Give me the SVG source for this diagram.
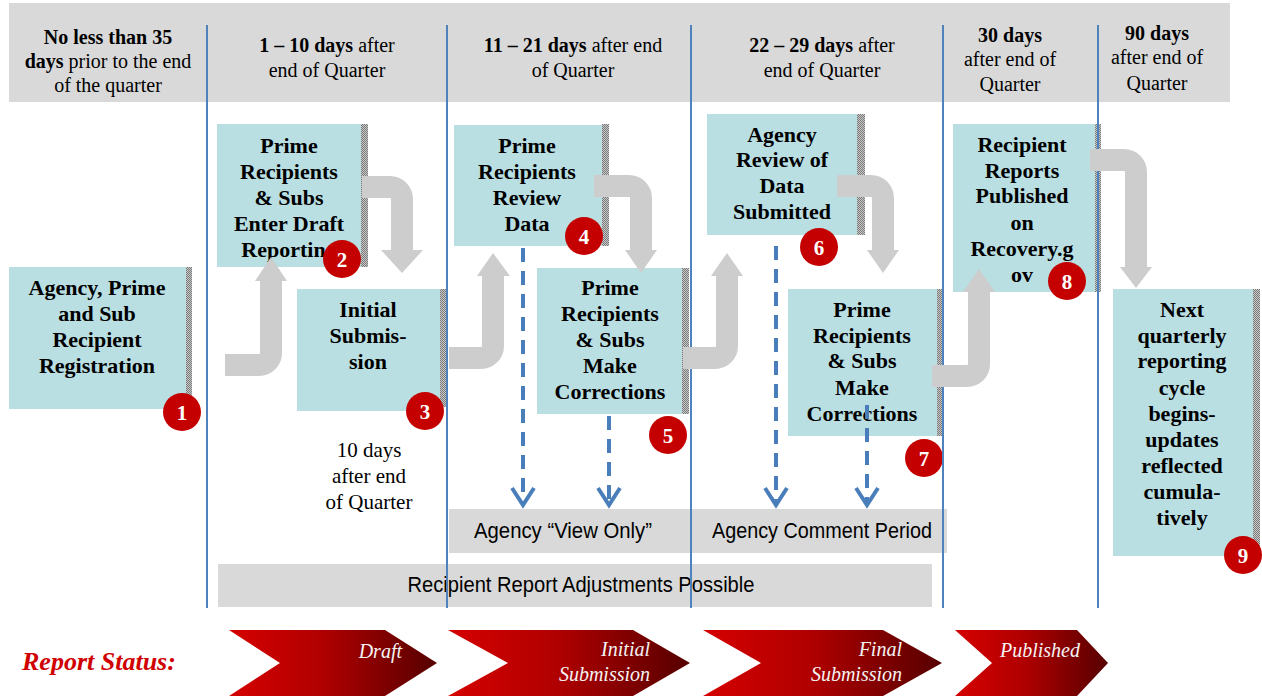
<svg xmlns="http://www.w3.org/2000/svg" width="1262" height="696" viewBox="0 0 1262 696">
<defs>
<pattern id="dots" width="2" height="2" patternUnits="userSpaceOnUse">
<rect width="2" height="2" fill="#c8c8c8"/>
<rect width="1" height="1" fill="#7a7a7a"/>
<rect x="1" y="1" width="1" height="1" fill="#7a7a7a"/>
</pattern>
<linearGradient id="chev" x1="0" y1="0" x2="1" y2="0">
<stop offset="0" stop-color="#d60000"/>
<stop offset="0.45" stop-color="#b00000"/>
<stop offset="1" stop-color="#560000"/>
</linearGradient>
<style>
.hdr{font-family:"Liberation Serif","Times New Roman",serif;font-size:20px;fill:#000;text-anchor:middle}
.b{font-weight:bold}
.box{fill:#b9dfe3}
.shd{fill:url(#dots)}
.bt{font-family:"Liberation Serif","Times New Roman",serif;font-size:22px;font-weight:bold;fill:#000;text-anchor:middle}
.badge{fill:#c40000}
.bn{font-family:"Liberation Serif","Times New Roman",serif;font-size:21px;font-weight:bold;fill:#fff;text-anchor:middle}
.vl{stroke:#4f81bd;stroke-width:2}
.band{fill:#d9d9d9}
.bandt{font-family:"Liberation Sans Narrow","Liberation Sans",Arial,sans-serif;font-size:22px;fill:#000;text-anchor:middle}
.ga{fill:none;stroke:#cdcdcd;stroke-width:22;stroke-linecap:butt}
.gh{fill:#cdcdcd}
.da{fill:none;stroke:#4a7ebb;stroke-width:4;stroke-dasharray:14 9}
.dh{fill:none;stroke:#4a7ebb;stroke-width:4}
.ct{font-family:"Liberation Serif","Times New Roman",serif;font-size:20px;font-style:italic;fill:#f4f4f4;text-anchor:end}
.plain{font-family:"Liberation Serif","Times New Roman",serif;font-size:21px;fill:#000;text-anchor:middle}
</style>
</defs>
<rect width="1262" height="696" fill="#fff"/>

<g id="header">
<rect x="9" y="3" width="1221" height="99" fill="#d9d9d9"/>
<text class="hdr"><tspan class="b" x="108" y="44">No less than 35</tspan><tspan x="108" y="68"><tspan class="b">days</tspan> prior to the end</tspan><tspan x="108" y="92">of the quarter</tspan></text>
<text class="hdr"><tspan x="327" y="52"><tspan class="b">1 – 10 days</tspan> after</tspan><tspan x="327" y="77">end of Quarter</tspan></text>
<text class="hdr"><tspan x="573" y="52"><tspan class="b">11 – 21 days</tspan> after end</tspan><tspan x="573" y="77">of Quarter</tspan></text>
<text class="hdr"><tspan x="822" y="52"><tspan class="b">22 – 29 days</tspan> after</tspan><tspan x="822" y="77">end of Quarter</tspan></text>
<text class="hdr"><tspan class="b" x="1010" y="42">30 days</tspan><tspan x="1010" y="66">after end of</tspan><tspan x="1010" y="91">Quarter</tspan></text>
<text class="hdr"><tspan class="b" x="1157" y="40">90 days</tspan><tspan x="1157" y="64">after end of</tspan><tspan x="1157" y="90">Quarter</tspan></text>
</g>

<g id="bands">
<rect class="band" x="449" y="509" width="498" height="44"/>
<text class="bandt" x="563" y="538" textLength="178" lengthAdjust="spacingAndGlyphs">Agency “View Only”</text>
<text class="bandt" x="822" y="538" textLength="220" lengthAdjust="spacingAndGlyphs">Agency Comment Period</text>
<rect class="band" x="218" y="564" width="714" height="43"/>
<text class="bandt" x="581" y="592" textLength="347" lengthAdjust="spacingAndGlyphs">Recipient Report Adjustments Possible</text>
</g>

<g id="node1">
<rect class="shd" x="186" y="267" width="6" height="139"/>
<rect class="box" x="9" y="267" width="177" height="142"/>
<text class="bt"><tspan x="97" y="295">Agency, Prime</tspan><tspan x="97" y="321">and Sub</tspan><tspan x="97" y="347">Recipient</tspan><tspan x="97" y="373">Registration</tspan></text>
<circle class="badge" cx="182" cy="412" r="19"/><text class="bn" x="182" y="420">1</text>
</g>

<g id="node2">
<rect class="shd" x="361" y="124" width="7" height="143"/>
<rect class="box" x="217" y="124" width="144" height="143"/>
<text class="bt"><tspan x="289" y="153">Prime</tspan><tspan x="289" y="179">Recipients</tspan><tspan x="289" y="205">&amp; Subs</tspan><tspan x="289" y="231">Enter Draft</tspan><tspan x="289" y="257">Reporting</tspan></text>
<circle class="badge" cx="342" cy="259" r="19"/><text class="bn" x="342" y="267">2</text>
</g>

<g id="node3">
<rect class="shd" x="440" y="289" width="6" height="118"/>
<rect class="box" x="297" y="289" width="143" height="122"/>
<text class="bt"><tspan x="368" y="317">Initial</tspan><tspan x="368" y="343">Submis-</tspan><tspan x="368" y="369">sion</tspan></text>
<circle class="badge" cx="425" cy="411" r="19"/><text class="bn" x="425" y="419">3</text>
</g>

<g id="note10">
<text class="plain"><tspan x="369" y="457">10 days</tspan><tspan x="369" y="483">after end</tspan><tspan x="369" y="509">of Quarter</tspan></text>
</g>

<g id="node4">
<rect class="shd" x="602" y="124" width="7" height="122"/>
<rect class="box" x="454" y="125" width="148" height="121"/>
<text class="bt"><tspan x="527" y="153">Prime</tspan><tspan x="527" y="179">Recipients</tspan><tspan x="527" y="205">Review</tspan><tspan x="527" y="231">Data</tspan></text>
<circle class="badge" cx="584" cy="236" r="19"/><text class="bn" x="584" y="244">4</text>
</g>

<g id="node5">
<rect class="shd" x="682" y="268" width="7" height="146"/>
<rect class="box" x="537" y="268" width="145" height="146"/>
<text class="bt"><tspan x="610" y="295">Prime</tspan><tspan x="610" y="321">Recipients</tspan><tspan x="610" y="347">&amp; Subs</tspan><tspan x="610" y="373">Make</tspan><tspan x="610" y="399">Corrections</tspan></text>
<circle class="badge" cx="668" cy="435" r="19"/><text class="bn" x="668" y="443">5</text>
</g>

<g id="node6">
<rect class="shd" x="857" y="114" width="8" height="121"/>
<rect class="box" x="707" y="114" width="150" height="121"/>
<text class="bt"><tspan x="782" y="142">Agency</tspan><tspan x="782" y="167">Review of</tspan><tspan x="782" y="193">Data</tspan><tspan x="782" y="219">Submitted</tspan></text>
<circle class="badge" cx="819" cy="247" r="19"/><text class="bn" x="819" y="255">6</text>
</g>

<g id="node7">
<rect class="shd" x="937" y="289" width="7" height="147"/>
<rect class="box" x="788" y="289" width="149" height="147"/>
<text class="bt"><tspan x="862" y="317">Prime</tspan><tspan x="862" y="343">Recipients</tspan><tspan x="862" y="368">&amp; Subs</tspan><tspan x="862" y="395">Make</tspan><tspan x="862" y="421">Corrections</tspan></text>
<circle class="badge" cx="924" cy="458" r="19"/><text class="bn" x="924" y="466">7</text>
</g>

<g id="node8">
<rect class="shd" x="1095" y="124" width="6" height="168"/>
<rect class="box" x="953" y="124" width="142" height="168"/>
<text class="bt"><tspan x="1022" y="152">Recipient</tspan><tspan x="1022" y="178">Reports</tspan><tspan x="1022" y="203">Published</tspan><tspan x="1022" y="230">on</tspan><tspan x="1022" y="256">Recovery.g</tspan><tspan x="1022" y="282">ov</tspan></text>
<circle class="badge" cx="1067" cy="281" r="19"/><text class="bn" x="1067" y="289">8</text>
</g>

<g id="node9">
<rect class="shd" x="1253" y="289" width="7" height="264"/>
<rect class="box" x="1113" y="289" width="140" height="267"/>
<text class="bt"><tspan x="1182" y="317">Next</tspan><tspan x="1182" y="343">quarterly</tspan><tspan x="1182" y="368">reporting</tspan><tspan x="1182" y="395">cycle</tspan><tspan x="1182" y="421">begins-</tspan><tspan x="1182" y="447">updates</tspan><tspan x="1182" y="473">reflected</tspan><tspan x="1182" y="499">cumula-</tspan><tspan x="1182" y="525">tively</tspan></text>
<circle class="badge" cx="1243" cy="555" r="19"/><text class="bn" x="1243" y="563">9</text>
</g>

<g id="gridlines">
<line class="vl" x1="207" y1="25" x2="207" y2="608"/>
<line class="vl" x1="447" y1="25" x2="447" y2="608"/>
<line class="vl" x1="691" y1="25" x2="691" y2="608"/>
<line class="vl" x1="943" y1="25" x2="943" y2="608"/>
<line class="vl" x1="1098" y1="25" x2="1098" y2="608"/>
</g>

<g id="connectors">
<path class="ga" d="M225,365 H259 A12,12 0 0 0 271,353 V280"/><polygon class="gh" points="255,281 287,281 271,257"/>
<path class="ga" d="M362,187 H390 A12,12 0 0 1 402,199 V251"/><polygon class="gh" points="381,250 423,250 402,273"/>
<path class="ga" d="M449,358 H481 A12,12 0 0 0 493,346 V275"/><polygon class="gh" points="477,276 510,276 493,253"/>
<path class="ga" d="M594,186 H629 A12,12 0 0 1 641,198 V251"/><polygon class="gh" points="625,250 657,250 641,273"/>
<path class="ga" d="M683,358 H715 A12,12 0 0 0 727,346 V275"/><polygon class="gh" points="711,276 743,276 727,253"/>
<path class="ga" d="M837,186 H871 A12,12 0 0 1 883,198 V251"/><polygon class="gh" points="867,250 899,250 883,273"/>
<path class="ga" d="M932,376 H967 A12,12 0 0 0 979,364 V291"/><polygon class="gh" points="963,292 995,292 979,269"/>
<path class="ga" d="M1090,160 H1124 A12,12 0 0 1 1136,172 V268"/><polygon class="gh" points="1120,267 1152,267 1136,288"/>

<line class="da" x1="523" y1="248" x2="523" y2="503"/><polyline class="dh" points="512,488 523,505 534,488"/>
<line class="da" x1="609" y1="416" x2="609" y2="503"/><polyline class="dh" points="598,488 609,505 620,488"/>
<line class="da" x1="776" y1="246" x2="776" y2="503"/><polyline class="dh" points="765,488 776,505 787,488"/>
<line class="da" x1="867" y1="405" x2="867" y2="503"/><polyline class="dh" points="856,488 867,505 878,488"/>
</g>

<g id="status">
<text x="22" y="670" font-family="'Liberation Serif','Times New Roman',serif" font-size="26" font-weight="bold" font-style="italic" fill="#d00000">Report Status:</text>
<polygon fill="url(#chev)" points="229,630 385,630 437,663 385,696 229,696 280,663"/>
<text class="ct" x="402" y="658">Draft</text>
<polygon fill="url(#chev)" points="448,630 633,630 690,663 633,696 448,696 508,663"/>
<text class="ct"><tspan x="650" y="656">Initial</tspan><tspan x="650" y="681">Submission</tspan></text>
<polygon fill="url(#chev)" points="703,630 883,630 942,663 883,696 703,696 761,663"/>
<text class="ct"><tspan x="902" y="656">Final</tspan><tspan x="902" y="681">Submission</tspan></text>
<polygon fill="url(#chev)" points="955,630 1077,630 1108,663 1077,696 955,696 992,663"/>
<text class="ct" x="1080" y="657">Published</text>
</g>
</svg>
